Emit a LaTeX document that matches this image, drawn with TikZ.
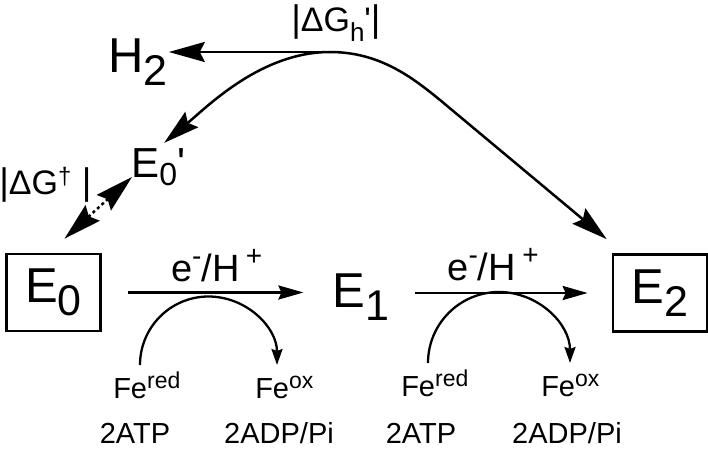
\documentclass[tikz,border=0pt]{standalone}
\usepackage{fontspec}
\setmainfont{Liberation Sans}
\usetikzlibrary{arrows.meta}

\newcommand{\lowbig}[1]{\raisebox{-13pt}{\fontsize{43}{43}\selectfont #1}}
\newcommand{\lowmid}[1]{\raisebox{-8pt}{\fontsize{32}{32}\selectfont #1}}
\newcommand{\lowlab}[1]{\raisebox{-10pt}{\fontsize{26}{26}\selectfont #1}}
\newcommand{\upfe}[1]{\raisebox{10pt}{\fontsize{23}{23}\selectfont #1}}
\newcommand{\uprxn}[1]{\raisebox{16pt}{\fontsize{28}{28}\selectfont #1}}
\newcommand{\vbar}{{\fontsize{37}{37}\selectfont|}}

\begin{document}
\begin{tikzpicture}[x=1pt,y=-1pt,line width=2.5pt,
    >={Stealth[length=36pt,width=20pt,inset=5pt]},
    every node/.style={inner sep=0pt},
    big/.style={font=\fontsize{49}{49}\selectfont},
    mid/.style={font=\fontsize{42}{42}\selectfont},
    lab/.style={font=\fontsize{34}{34}\selectfont},
    rxn/.style={font=\fontsize{38}{38}\selectfont},
    fe/.style={font=\fontsize{29}{29}\selectfont}]

    \tikzstyle{state box}=[draw,line width=2.7pt,minimum width=94pt,minimum height=77pt]

    \useasboundingbox (0,0) rectangle (708,449);

    \node[big,state box]       (e0)  at (53.5,292.5) {E\lowbig{0}};
    \node[big]                 (e1)  at (361,297)    {E\lowbig{1}};
    \node[big,state box]       (e2)  at (660,293)    {E\lowbig{2}};
    \node[big,anchor=base west] (h2) at (107,73)     {H\lowbig{2}};
    \node[mid,anchor=base west] (e0p) at (130,177)   {E\lowmid{0}\textquotesingle};
    \node[lab,anchor=base west] (dg)  at (-2,194)    {\vbar ΔG\textsuperscript{†}\hspace{10pt}\vbar};
    \node[lab,anchor=base west] (dgh) at (290,32)    {\vbar ΔG\lowlab{h}\textquotesingle\vbar};

    \coordinate (top) at (330,52);
    \draw[->] (top) -- (top -| h2.east);
    \draw[->] (top) .. controls (262,52) and (209,105) .. ([xshift=6pt,yshift=4pt]e0p.north);
    \draw[->] (top) .. controls (380,52) and (413,78) .. (440,100)
              -- ([xshift=-5pt,yshift=14pt]e2.north west);
    \draw[{Stealth[length=38pt,width=21pt,inset=5pt]}-{Stealth[length=38pt,width=21pt,inset=5pt]},
          dash pattern=on 3pt off 3pt]
          ([xshift=2pt]e0p.base west) -- ([xshift=11pt,yshift=14pt]e0.north);

    \begin{scope}[>={Stealth[length=25pt,width=14pt,inset=3pt]},line width=2.7pt]
    \draw[->,shorten <=26pt,shorten >=28pt] (e0.east) -- (e0.east -| e1.west)
          node[rxn,midway,above=9pt] {e\uprxn{-}/H\,\uprxn{+}};
    \draw[->,shorten <=24pt,shorten >=24pt] (e2.west -| e1.east) -- (e2.west)
          node[rxn,midway,above=11pt,xshift=-8pt] {e\uprxn{-}/H\,\uprxn{+}};
    \end{scope}

    \node[fe,anchor=base west] (fr1) at (112,398) {Fe\upfe{red}};
    \node[fe,anchor=base west] (fo1) at (254,398) {Fe\upfe{ox}};
    \node[fe,anchor=base west] (fr2) at (400,396) {Fe\upfe{red}};
    \node[fe,anchor=base west] (fo2) at (540,396) {Fe\upfe{ox}};
    \node[fe,anchor=base] (at1) at (135,443) {2ATP};
    \node[fe,anchor=base] (ad1) at (279,443) {2ADP/Pi};
    \node[fe,anchor=base] (at2) at (421,443) {2ATP};
    \node[fe,anchor=base] (ad2) at (567,443) {2ADP/Pi};

    \begin{scope}[>={Stealth[length=16pt,width=11pt,inset=2pt]},line width=2.3pt]
    \coordinate (s1) at (140,365);
    \coordinate (s2) at (428,363);
    \draw[->] (s1) arc[start angle=180,end angle=360,radius=68.5];
    \draw[->] (s2) arc[start angle=180,end angle=360,radius=71];
    \end{scope}
\end{tikzpicture}
\end{document}
